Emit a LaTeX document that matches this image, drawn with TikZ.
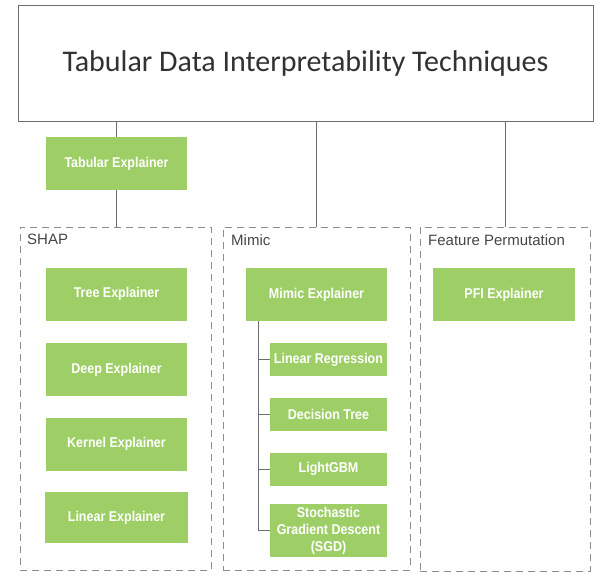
\documentclass[tikz,border=0pt]{standalone}
\usepackage{fontspec}
\setmainfont{Liberation Sans}
\newfontfamily\titlefont{Carlito}
\newfontfamily\boxfont[FakeStretch=0.88]{Liberation Sans}
\usetikzlibrary{positioning}
\definecolor{explgreen}{RGB}{158,206,102}
\definecolor{linegray}{RGB}{110,110,110}
\definecolor{dashgray}{RGB}{140,140,140}
\definecolor{labelgray}{RGB}{70,70,70}
\definecolor{titlegray}{RGB}{50,50,50}

\tikzset{
  expl/.style={fill=explgreen, text=white, font=\boxfont\bfseries\fontsize{14.2}{17}\selectfont,
    inner sep=0pt, align=center, minimum width=141pt, minimum height=53pt},
  subexpl/.style={expl, minimum width=117pt, minimum height=33pt},
  group/.style={draw=dashgray, dash pattern=on 7pt off 5pt, line width=0.8pt, inner sep=0pt},
  grouplabel/.style={anchor=north west, text=labelgray, font=\fontsize{15}{17}\selectfont, inner sep=0pt},
  link/.style={draw=linegray, line width=0.8pt},
}

\begin{document}
\begin{tikzpicture}[x=1pt,y=-1pt]
  \useasboundingbox (0,0) rectangle (600,582);

  \node[draw=linegray, line width=0.8pt, minimum width=575pt, minimum height=116pt, inner sep=0pt,
    font=\titlefont\fontsize{30}{34}\selectfont, text=titlegray] (title) at (305.5,63)
    {Tabular Data Interpretability Techniques};

  \node[expl] (tab) at (116.5,163.5) {Tabular Explainer};

  % groups
  \node[group, minimum width=191pt, minimum height=343pt] (shap) at (115.5,398.5) {};
  \node[group, minimum width=187pt, minimum height=343pt] (mimicgrp) at (316.5,398.5) {};
  \node[group, minimum width=170pt, minimum height=344pt] (fpgrp) at (505,399) {};
  \node[grouplabel] (shaplabel) at (27,234) {SHAP};
  \node[grouplabel] (mimiclabel) at (231,234) {Mimic};
  \node[grouplabel] (fplabel) at (428,234) {Feature Permutation};

  % SHAP
  \node[expl] (tree) at (116.5,294) {Tree Explainer};
  \node[expl] (deep) at (116.5,369.5) {Deep Explainer};
  \node[expl] (kernel) at (116.5,444) {Kernel Explainer};
  \node[expl, minimum width=143pt, minimum height=51pt] (linear) at (116.5,517.5) {Linear Explainer};

  % Mimic
  \node[expl] (mimic) at (316.5,294.5) {Mimic Explainer};
  \node[subexpl] (linreg) at (328.5,359.5) {Linear Regression};
  \node[subexpl] (dtree) at (328.5,414.5) {Decision Tree};
  \node[subexpl] (lgbm) at (328.5,469) {LightGBM};
  \node[subexpl, minimum height=53pt] (sgd) at (328.5,530.5) {Stochastic\\Gradient Descent\\(SGD)};

  % Feature Permutation
  \node[expl, minimum width=142pt] (pfi) at (504,294.5) {PFI Explainer};

  \draw[link] (tab.north |- title.south) -- (tab.north);
  \draw[link] (tab.south) -- (tab.south |- shap.north);
  \draw[link] (mimicgrp.north |- title.south) -- (mimicgrp.north);
  \draw[link] (fpgrp.north |- title.south) -- (fpgrp.north);

  \coordinate (trunk) at (258,321);
  \draw[link] (trunk) |- (sgd.west);
  \draw[link] (trunk |- linreg.west) -- (linreg.west);
  \draw[link] (trunk |- dtree.west) -- (dtree.west);
  \draw[link] (trunk |- lgbm.west) -- (lgbm.west);
\end{tikzpicture}
\end{document}
